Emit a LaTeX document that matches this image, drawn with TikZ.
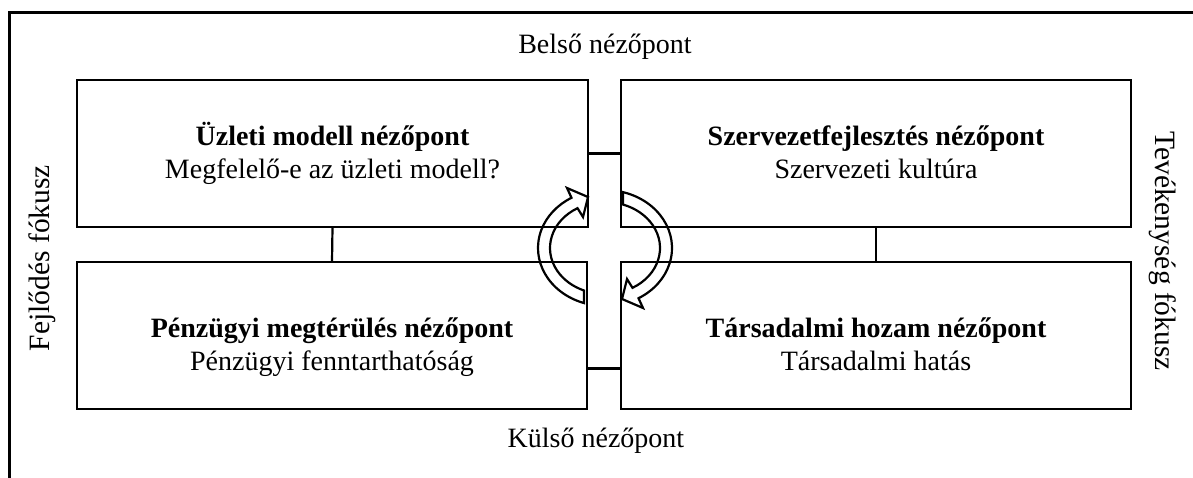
\documentclass[tikz,border=0pt]{standalone}
\usepackage{fontspec}
\setmainfont{Liberation Serif}
\usetikzlibrary{calc}
\begin{document}
\begin{tikzpicture}[x=1pt,y=-1pt,
  box/.style={draw,line width=2.8pt,inner sep=0pt,outer sep=0pt,minimum height=147pt},
  ttl/.style={anchor=base,inner sep=0pt,font=\fontsize{28}{33}\selectfont\bfseries},
  sub/.style={anchor=base,inner sep=0pt,font=\fontsize{28}{33}\selectfont},
  lab/.style={inner sep=0pt,font=\fontsize{28}{33}\selectfont},
  sidelab/.style={inner sep=0pt,font=\fontsize{29.5}{33}\selectfont},
  conn/.style={line width=2.2pt},
  cyc/.style={line width=2.2pt,line join=miter}]
\useasboundingbox (0,0) rectangle (1193,477);
\draw[line width=3pt] (9,482) -- (9,12) -- (1198,12);
% boxes
\node[box,minimum width=511pt] (tl) at (332.5,153.5) {};
\node[box,minimum width=510pt] (tr) at (876,153.5) {};
\node[box,minimum width=510pt] (bl) at (332,335.5) {};
\node[box,minimum width=510pt] (br) at (876,335.5) {};
% texts
\node[ttl] (tlt) at (332.5,145) {Üzleti modell nézőpont};
\node[sub] (tls) at (332.5,178) {Megfelelő-e az üzleti modell?};
\node[ttl] (trt) at (876,145) {Szervezetfejlesztés nézőpont};
\node[sub] (trs) at (876,178) {Szervezeti kultúra};
\node[ttl] (blt) at (332,337) {Pénzügyi megtérülés nézőpont};
\node[sub] (bls) at (332,370) {Pénzügyi fenntarthatóság};
\node[ttl] (brt) at (876,337) {Társadalmi hozam nézőpont};
\node[sub] (brs) at (876,370) {Társadalmi hatás};
\node[lab] (top) at (605,47) {Belső nézőpont};
\node[lab] (bot) at (596,441) {Külső nézőpont};
\node[sidelab,rotate=90] (lft) at (42,258) {Fejlődés fókusz};
\node[sidelab,rotate=-90] (rgt) at (1163,251) {Tevékenység fókusz};
% connectors
\draw[conn] (tl.east) -- (tr.west);
\draw[conn] (tl.south) -- (bl.north);
\draw[conn] (tr.south) -- (br.north);
\draw[conn] ([yshift=-33pt]bl.east) -- ([yshift=-33pt]br.west);
% cycle arrows
\coordinate (C) at (605,248);
\draw[cyc] ([shift={(C)}]108.3:67 and 58) arc[start angle=108.3, end angle=240, x radius=67, y radius=58]
  -- (567,188) -- (588,197) -- (583,217)
  -- ([shift={(C)}]240:55 and 46) arc[start angle=240, end angle=112.4, x radius=55, y radius=46] -- cycle;
\draw[cyc] ([shift={(C)}]-74.4:67 and 58) arc[start angle=-74.4, end angle=60, x radius=67, y radius=58]
  -- (643,308) -- (622,299) -- (627,279)
  -- ([shift={(C)}]60:55 and 46) arc[start angle=60, end angle=-70.9, x radius=55, y radius=46] -- cycle;
\end{tikzpicture}
\end{document}
